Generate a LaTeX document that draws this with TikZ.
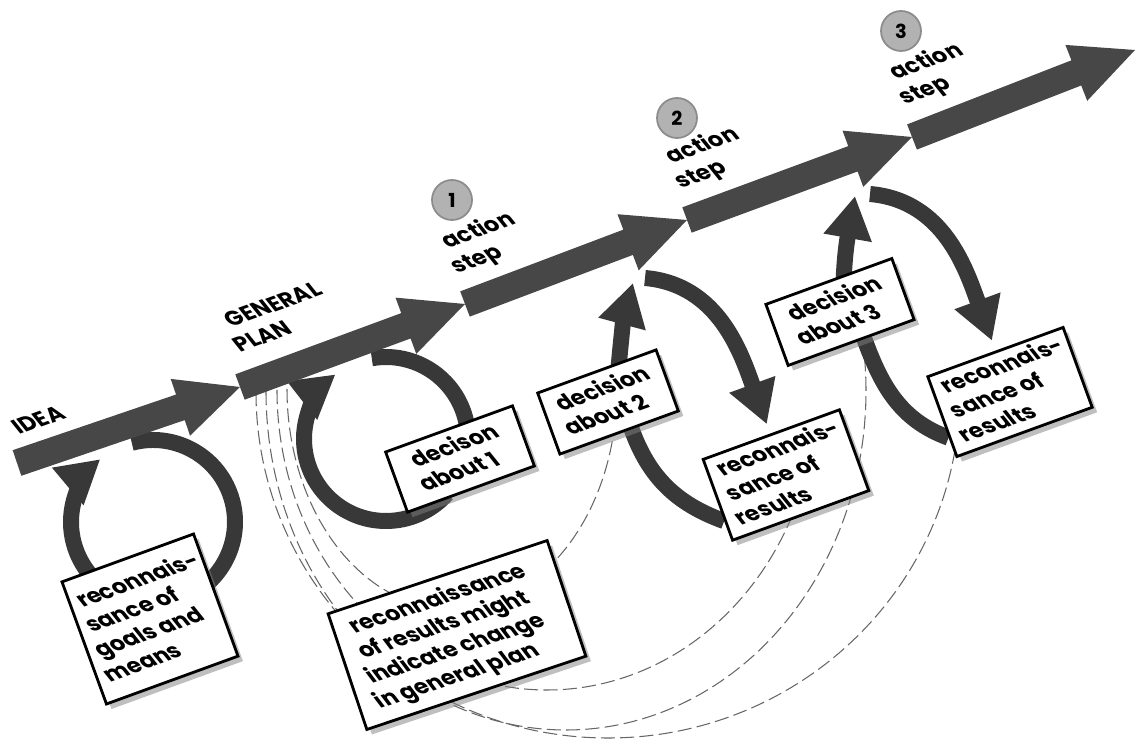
\documentclass[tikz,border=0pt]{standalone}
\usepackage{fontspec}
\setmainfont{Poppins}
\newfontfamily\tiltfamily[FakeSlant=-0.34]{Poppins}
\usetikzlibrary{arrows.meta,calc,shadows,backgrounds,decorations.text}
\newcommand\boxfont{\tiltfamily\bfseries\fontsize{12.5}{15}\selectfont}
\tikzset{
  {bar/.style} ={fill=black!72},
  {cyclearc/.style} ={draw=black!78,line width=0.32cm},
  {cyclearrow/.style} ={cyclearc,-{Triangle[width=0.92cm,length=0.85cm]}},
  {dashline/.style} ={draw=black!60,line width=0.6pt,dash pattern=on 8pt off 3pt},
  {box/.style} ={rectangle,draw,line width=1.6pt,fill=white,inner sep=0,
                 drop shadow={shadow xshift=0.1cm,shadow yshift=-0.1cm,
                              fill=black!50,opacity=.5}},
  {numcircle/.style} ={circle,fill=black!30,draw=black!45,line width=1pt,
                 minimum size=0.8cm,inner sep=0,font=\bfseries\fontsize{11}{12}\selectfont},
}
% one of the thick arrows of the main line, from #1 to #2
\newcommand\bigarrow[2]{%
  \coordinate (hb) at ($(#2)!1.26cm!(#1)$);
  \fill[bar] ($(#1)!0.27cm!90:(#2)$) -- ($(hb)!0.27cm!90:(#2)$)
    -- ($(hb)!0.6cm!90:(#2)$) -- (#2) -- ($(hb)!0.6cm!-90:(#2)$)
    -- ($(hb)!0.27cm!-90:(#2)$) -- ($(#1)!0.27cm!-90:(#2)$) -- cycle;
}
% lines #4 round #1, turned by #2 degrees, left edge #3 px from the centre
\newcount\blocklines
\newcommand\tilttext[4]{%
  \global\blocklines=0
  \foreach \txt in {#4}{\global\advance\blocklines by 1}%
  \begin{scope}[shift={(#1)},rotate=#2]
    \foreach \txt [count=\i] in {#4}{%
      \pgfmathsetmacro\yy{((\the\blocklines-1)/2-(\i-1))*15-3.6}
      \path[decorate,decoration={text along path,text align=left,
          text/.expanded={|\noexpand\boxfont|\txt}}]
        (#3*0.5669pt,\yy pt) -- (#3*0.5669pt+300pt,\yy pt);
    }
  \end{scope}
}

\begin{document}
\begin{tikzpicture}[x=0.02cm,y=0.02cm]
  \useasboundingbox (0,0) rectangle (1137,744);

  \node[box,rotate=20,minimum width=2.8cm,minimum height=2.6cm] (goals) at (150,125) {};
  \node[box,rotate=20,minimum width=2.7cm,minimum height=1.28cm] (dec1) at (460,285) {};
  \node[box,rotate=20,minimum width=2.52cm,minimum height=1.3cm] (dec2) at (608,342) {};
  \node[box,rotate=20,minimum width=2.9cm,minimum height=1.72cm] (res2) at (786,269) {};
  \node[box,rotate=20,minimum width=2.68cm,minimum height=1.3cm] (dec3) at (840,432) {};
  \node[box,rotate=20,minimum width=2.88cm,minimum height=1.7cm] (res3) at (1010,352) {};
  \node[box,rotate=18.5,minimum width=4.62cm,minimum height=2.44cm] (change) at (457,109) {};

  \tilttext{goals.center}{20}{-59}{reconnais-,sance of,goals and,means}
  \tilttext{dec1.center}{20}{-43}{decison,about 1}
  \tilttext{dec2.center}{20}{-46}{decision,about 2}
  \tilttext{res2.center}{20}{-59}{reconnais-,sance of,results}
  \tilttext{dec3.center}{20}{-46}{decision,about 3}
  \tilttext{res3.center}{20}{-59}{reconnais-,sance of,results}
  \tilttext{change.center}{18.5}{-96}{reconnaissance,of results might,indicate change,in general plan}

  \coordinate (idea) at (42,324);
  \coordinate (general) at (281,427);
  \coordinate (step1) at (484,501);
  \coordinate (step2) at (708,586);
  \coordinate (step3) at (932,670);
  \tilttext{idea}{20}{-26}{IDEA}
  \tilttext{general}{20}{-50}{GENERAL,PLAN}
  \tilttext{step1}{20}{-35}{action,step}
  \tilttext{step2}{20}{-35}{action,step}
  \tilttext{step3}{20}{-35}{action,step}
  \node[numcircle] (n1) at (452,544) {1};
  \node[numcircle] (n2) at (677,626) {2};
  \node[numcircle] (n3) at (901,713) {3};

  \begin{scope}[on background layer]
    \coordinate (p0) at (17,281);
    \coordinate (p1) at (240,357);
    \coordinate (p2) at (465,440);
    \coordinate (p3) at (687,524);
    \coordinate (p4) at (912,607);
    \coordinate (p5) at (1135,694);

    % dashed lines back to the general plan
    \coordinate (g1) at (256,352);
    \coordinate (g2) at (266,353);
    \coordinate (g3) at (277,354);
    \coordinate (g4) at (287,355);
    \draw[dashline] (g1) arc[start angle=180,end angle=356,x radius=352,y radius=346];
    \draw[dashline] (g2) arc[start angle=180,end angle=372,x radius=300,y radius=339];
    \draw[dashline] (g3) arc[start angle=180,end angle=340,x radius=270,y radius=300];
    \draw[dashline] (g4) arc[start angle=180,end angle=350,x radius=165,y radius=220];

    \coordinate (c1) at (153,222);
    \draw[cyclearc] ($(c1)+(105:82)$) arc[start angle=105,end angle=-55,radius=82];
    \draw[cyclearrow] ($(c1)+(225:82)$) arc[start angle=225,end angle=130,radius=82];

    \coordinate (c2) at (386,305);
    \draw[cyclearc] ($(c2)+(100:82)$) arc[start angle=100,end angle=5,radius=82];
    \draw[cyclearrow] ($(c2)+(-42:82)$) arc[start angle=-42,end angle=-232,radius=82];

    \coordinate (up2) at (633,461);
    \coordinate (rt2) at (645,466);
    \draw[cyclearrow] ($(dec2.north)!0.3!(dec2.east)$) to[out=85,in=-105] (up2);
    \draw[cyclearrow] (rt2) to[out=-5,in=110] ($(res2.north)+(-4,9)$);
    \draw[cyclearc] ($(dec2.south)!0.2!(dec2.south east)$) to[out=-70,in=160]
      ($(res2.west)!0.5!(res2.south west)$);

    \coordinate (up3) at (855,548);
    \coordinate (rt3) at (870,550);
    \draw[cyclearrow] ($(dec3.north)!0.2!(dec3.east)$) to[out=88,in=-100] (up3);
    \draw[cyclearrow] (rt3) to[out=-5,in=110] ($(res3.north)+(-3,10)$);
    \draw[cyclearc] ($(dec3.south)!0.2!(dec3.south east)$) to[out=-70,in=160]
      ($(res3.west)!0.5!(res3.south west)$);

    \bigarrow{p0}{p1}
    \bigarrow{p1}{p2}
    \bigarrow{p2}{p3}
    \bigarrow{p3}{p4}
    \bigarrow{p4}{p5}
  \end{scope}
\end{tikzpicture}
\end{document}
